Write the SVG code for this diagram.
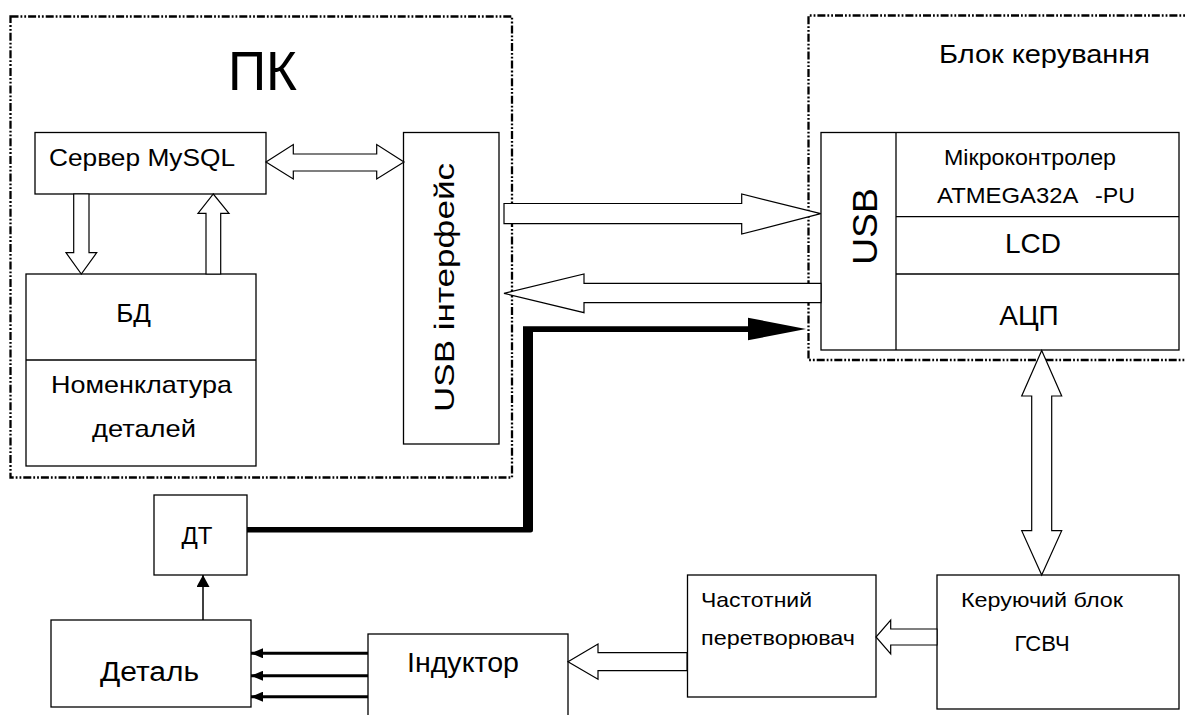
<svg xmlns="http://www.w3.org/2000/svg" width="1185" height="715" viewBox="0 0 1185 715">
<style>
  text { font-family: "Liberation Sans", Arial, sans-serif; fill: #000; }
  .box { fill: #fff; stroke: #000; stroke-width: 1.3; }
  .ln { fill: none; stroke: #000; stroke-width: 1.3; }
  .frame { fill: none; stroke: #000; stroke-width: 2.3; stroke-dasharray: 8 2 1.8 2 1.8 2; }
  .blk { fill: #fff; stroke: #000; stroke-width: 1.2; stroke-linejoin: miter; }
  .thin { fill: none; stroke: #000; stroke-width: 3; }
</style>
<defs>
  <marker id="tri" viewBox="0 0 12 10" refX="12" refY="5" markerWidth="12" markerHeight="10" markerUnits="userSpaceOnUse" orient="auto">
    <path d="M0,0 L12,5 L0,10 Z" fill="#000"/>
  </marker>
  <marker id="tri2" viewBox="0 0 12 13" refX="12" refY="6.5" markerWidth="12" markerHeight="13" markerUnits="userSpaceOnUse" orient="auto">
    <path d="M0,0 L12,6.5 L0,13 Z" fill="#000"/>
  </marker>
</defs>
<rect width="1185" height="715" fill="#fff"/>

<g id="pk">
  <rect class="frame" x="10.5" y="16.5" width="501.5" height="461"/>
  <text x="228" y="90" font-size="56" textLength="69" lengthAdjust="spacingAndGlyphs">ПК</text>
</g>

<g id="control-block">
  <path class="frame" d="M1195,15.5 L808.5,15.5 L808.5,360 L1195,360"/>
  <text x="939" y="63" font-size="26" textLength="211" lengthAdjust="spacingAndGlyphs">Блок керування</text>
</g>

<g id="server">
  <rect class="box" x="35" y="132.5" width="231" height="61.5"/>
  <text x="49" y="166" font-size="24" textLength="186" lengthAdjust="spacingAndGlyphs">Сервер MySQL</text>
</g>

<g id="bd">
  <rect class="box" x="26" y="274" width="230" height="192"/>
  <line class="ln" x1="26" y1="360" x2="256" y2="360"/>
  <text x="133.5" y="322" font-size="26" text-anchor="middle">БД</text>
  <text x="51" y="393" font-size="24" textLength="181" lengthAdjust="spacingAndGlyphs">Номенклатура</text>
  <text x="92" y="437" font-size="24" textLength="104" lengthAdjust="spacingAndGlyphs">деталей</text>
</g>

<g id="usb-interface">
  <rect class="box" x="403.5" y="132.5" width="95.5" height="311.5"/>
  <text transform="translate(453.5,412) rotate(-90)" font-size="27" textLength="249" lengthAdjust="spacingAndGlyphs">USB інтерфейс</text>
</g>

<g id="microcontroller">
  <rect class="box" x="821" y="132.5" width="358" height="217.5"/>
  <line class="ln" x1="896" y1="132.5" x2="896" y2="350"/>
  <line class="ln" x1="896" y1="216.7" x2="1179" y2="216.7"/>
  <line class="ln" x1="896" y1="274" x2="1179" y2="274"/>
  <text transform="translate(876.7,265) rotate(-90)" font-size="35" textLength="77" lengthAdjust="spacingAndGlyphs">USB</text>
  <text x="944" y="165" font-size="22" textLength="172" lengthAdjust="spacingAndGlyphs">Мікроконтролер</text>
  <text x="937" y="203" font-size="22"><tspan textLength="140" lengthAdjust="spacingAndGlyphs">ATMEGA32A</tspan> <tspan x="1095" textLength="40" lengthAdjust="spacingAndGlyphs">-PU</tspan></text>
  <text x="1033" y="253" font-size="28" text-anchor="middle">LCD</text>
  <text x="1029" y="325" font-size="28" text-anchor="middle">АЦП</text>
</g>

<g id="dt">
  <rect class="box" x="154" y="495" width="93" height="80"/>
  <text x="197" y="544" font-size="24" text-anchor="middle">ДТ</text>
</g>

<g id="detal">
  <rect class="box" x="51" y="620" width="200" height="87"/>
  <text x="100" y="681" font-size="27" textLength="99" lengthAdjust="spacingAndGlyphs">Деталь</text>
</g>

<g id="inductor">
  <rect class="box" x="368" y="634" width="200" height="110"/>
  <text x="407" y="672" font-size="27" textLength="112" lengthAdjust="spacingAndGlyphs">Індуктор</text>
</g>

<g id="freq-converter">
  <rect class="box" x="687.5" y="575" width="188.5" height="122"/>
  <text x="701" y="607" font-size="21" textLength="111" lengthAdjust="spacingAndGlyphs">Частотний</text>
  <text x="701" y="645" font-size="21" textLength="154" lengthAdjust="spacingAndGlyphs">перетворювач</text>
</g>

<g id="control-unit">
  <rect class="box" x="937" y="575" width="242" height="134"/>
  <text x="961" y="607" font-size="21" textLength="162" lengthAdjust="spacingAndGlyphs">Керуючий блок</text>
  <text x="1042" y="651" font-size="22" text-anchor="middle">ГСВЧ</text>
</g>

<g id="connectors">
  <polygon class="blk" points="266,162 293.3,144.5 293.3,154 376.7,154 376.7,144.5 404,162 376.7,179 376.7,171 293.3,171 293.3,179"/>
  <polygon class="blk" points="73.7,194 89,194 89,252.7 96.7,252.7 81.3,274 66,252.7 73.7,252.7"/>
  <polygon class="blk" points="206,274 220.7,274 220.7,213.3 229,213.3 213.3,194 198,213.3 206,213.3"/>
  <polygon class="blk" points="504,203.5 741.7,203.5 741.7,194 820.7,213.7 741.7,234 741.7,223.7 504,223.7"/>
  <polygon class="blk" points="821,283.3 584,283.3 584,274 504,293.3 584,312.7 584,302.7 821,302.7"/>
  <polygon class="blk" points="1041.7,350.5 1061.7,396 1051.7,396 1051.7,530.7 1061.7,530.7 1041.7,575 1021.7,530.7 1031.7,530.7 1031.7,396 1021.7,396"/>
  <polygon class="blk" points="937,629 890.7,629 890.7,620 876,637 890.7,654 890.7,645 937,645"/>
  <polygon class="blk" points="687,652.7 598,652.7 598,644 568,661.7 598,679.3 598,670.7 687,670.7"/>
  <path d="M247,527 L523,527 L523,326.3 L750,326.3 L750,332 L533,332 L533,530 Q533,532.5 530.5,532.5 L247,532.5 Z" fill="#000"/>
  <polygon points="748,317.7 806,329 748,340.3" fill="#000"/>
  <line x1="203" y1="620" x2="203" y2="575" stroke="#000" stroke-width="1.5" marker-end="url(#tri2)"/>
  <line class="thin" x1="368" y1="653.3" x2="251" y2="653.3" marker-end="url(#tri)"/>
  <line class="thin" x1="368" y1="675.7" x2="251" y2="675.7" marker-end="url(#tri)"/>
  <line class="thin" x1="368" y1="696.7" x2="251" y2="696.7" marker-end="url(#tri)"/>
</g>
</svg>
